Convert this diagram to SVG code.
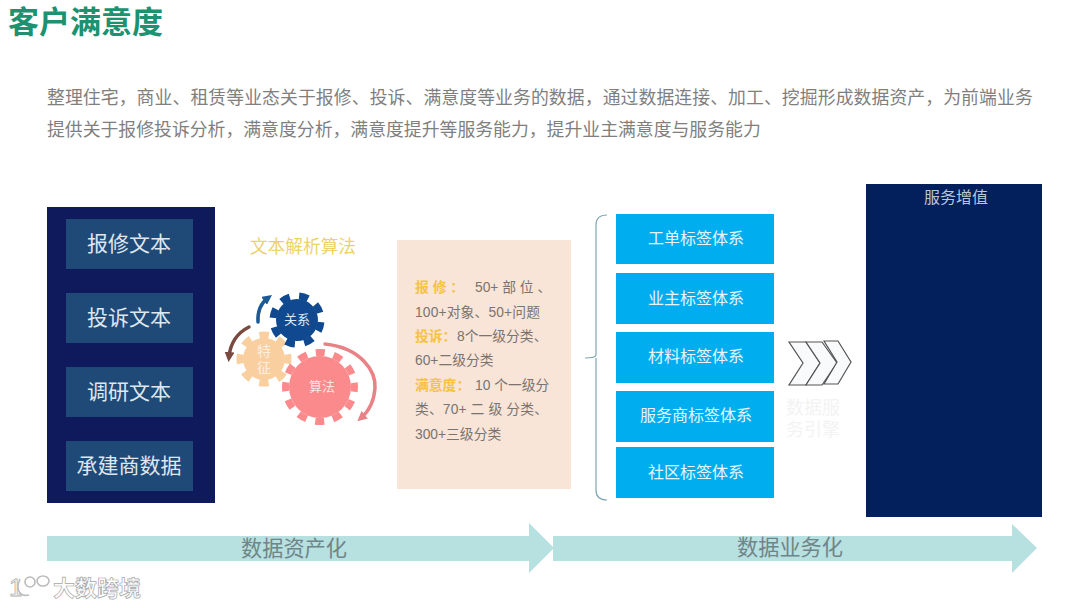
<svg xmlns="http://www.w3.org/2000/svg" width="1080" height="608" viewBox="0 0 1080 608">
<style>
text{font-family:"Liberation Sans","Noto Sans CJK SC",sans-serif}
.c{text-anchor:middle}
.side{fill:#1f4a78}
.st{fill:#dfe6ee;font-size:21px}
.blue{fill:#00aeef}
.bt{fill:#e6f5fb;font-size:16px}
.p{fill:#7f7f7f;font-size:17.85px}
.d{fill:#7a7470;font-size:13.8px}
.y{fill:#f6c244;font-weight:bold}
.ar{fill:#b7e0e1}
.at{fill:#6f8588;font-size:21.2px}
.chev{fill:#f8fafc;stroke:#555;stroke-width:1.2}
</style>
<defs>
<marker id="mb" markerWidth="2.8" markerHeight="2.8" refX="1.4" refY="1.4" orient="auto"><path d="M0,0L2.8,1.4L0,2.8z" fill="#1b5a96"/></marker>
<marker id="mr" markerWidth="2.8" markerHeight="2.8" refX="1.4" refY="1.4" orient="auto"><path d="M0,0L2.8,1.4L0,2.8z" fill="#7a4a40"/></marker>
<marker id="mp" markerWidth="2.8" markerHeight="2.8" refX="1.4" refY="1.4" orient="auto"><path d="M0,0L2.8,1.4L0,2.8z" fill="#e88286"/></marker>
</defs>
<rect width="1080" height="608" fill="#fff"/>
<text id="title" x="8" y="33" font-size="31" font-weight="bold" fill="#1c9270">客户满意度</text>
<g id="intro">
<text class="p" x="47" y="104" letter-spacing="0.08">整理住宅，商业、租赁等业态关于报修、投诉、满意度等业务的数据，通过数据连接、加工、挖掘形成数据资产，为前端业务</text>
<text class="p" x="47" y="136">提供关于报修投诉分析，满意度分析，满意度提升等服务能力，提升业主满意度与服务能力</text>
</g>
<g id="sources">
<rect x="47" y="207" width="168" height="296" fill="#0f1a5c"/>
<g id="s1"><rect class="side" x="66" y="219" width="127" height="50"/><text class="st c" x="129" y="251">报修文本</text></g>
<g id="s2"><rect class="side" x="66" y="293" width="127" height="50"/><text class="st c" x="129" y="325">投诉文本</text></g>
<g id="s3"><rect class="side" x="66" y="367" width="127" height="50"/><text class="st c" x="129" y="399">调研文本</text></g>
<g id="s4"><rect class="side" x="66" y="441" width="127" height="50"/><text class="st c" x="129" y="473">承建商数据</text></g>
</g>
<g id="algo">
<text class="c" x="303" y="253" font-size="17.7" fill="#ecd26a">文本解析算法</text>
<g id="gear-tan">
<circle cx="264" cy="359" r="21" fill="#f9cf9f"/>
<circle cx="264" cy="359" r="24" fill="none" stroke="#f9cf9f" stroke-width="7" pathLength="16" stroke-dasharray="1 1" transform="rotate(-11 264 359)"/>
<text class="c" x="264" y="356" font-size="14" fill="#fdeee0">特</text>
<text class="c" x="264" y="373" font-size="14" fill="#fdeee0">征</text>
</g>
<g id="gear-blue">
<circle cx="297" cy="320" r="21" fill="#10498f"/>
<circle cx="297" cy="320" r="24" fill="none" stroke="#10498f" stroke-width="7" pathLength="16" stroke-dasharray="1 1" transform="rotate(5 297 320)"/>
<text class="c" x="297" y="324" font-size="13" fill="#dbe8f5">关系</text>
</g>
<g id="gear-pink">
<circle cx="320" cy="387" r="31" fill="#fa8a8c"/>
<circle cx="320" cy="387" r="34.5" fill="none" stroke="#fa8a8c" stroke-width="7" pathLength="24" stroke-dasharray="1 1" transform="rotate(-7 320 387)"/>
<text class="c" x="322" y="391" font-size="13" fill="#fde3e3">算法</text>
</g>
</g>
<g id="loop-arrows" fill="none" stroke-linecap="round">
<path d="M258,322Q257,306 268,298" stroke="#1b5a96" stroke-width="3.5" marker-end="url(#mb)"/>
<path d="M249,327Q231,336 229,357" stroke="#7a4a40" stroke-width="3.5" marker-end="url(#mr)"/>
<path d="M325,344C362,348 376,372 375,388C374,402 368,412 361,418" stroke="#e88286" stroke-width="3.5" marker-end="url(#mp)"/>
</g>
<g id="details">
<rect x="397" y="240" width="174" height="249" fill="#f9e4d8"/>
<text class="d" x="415" y="292"><tspan class="y">报 修 ：</tspan><tspan x="475">50+ 部 位 、</tspan></text>
<text class="d" x="415" y="317" textLength="125">100+对象、50+问题</text>
<text class="d" x="415" y="341"><tspan class="y">投诉：</tspan><tspan x="457">8个一级分类、</tspan></text>
<text class="d" x="415" y="365">60+二级分类</text>
<text class="d" x="415" y="390"><tspan class="y">满意度：</tspan><tspan x="475">10 个一级分</tspan></text>
<text class="d" x="415" y="414" textLength="133">类、70+ 二 级 分类、</text>
<text class="d" x="415" y="439">300+三级分类</text>
</g>
<g id="connectors">
<path id="brace" d="M607,215Q596,215 596,225V355Q596,358 585,358M596,358V490Q596,500 607,500" fill="none" stroke="#7fa5b5" stroke-width="1.2"/>
</g>
<g id="tags">
<g id="t1"><rect class="blue" x="616" y="214" width="158" height="50"/><text class="bt c" x="696" y="244">工单标签体系</text></g>
<g id="t2"><rect class="blue" x="616" y="273" width="158" height="51"/><text class="bt c" x="696" y="304">业主标签体系</text></g>
<g id="t3"><rect class="blue" x="616" y="332" width="158" height="51"/><text class="bt c" x="696" y="362">材料标签体系</text></g>
<g id="t4"><rect class="blue" x="616" y="391" width="158" height="51"/><text class="bt c" x="696" y="421">服务商标签体系</text></g>
<g id="t5"><rect class="blue" x="616" y="447" width="158" height="51"/><text class="bt c" x="696" y="478">社区标签体系</text></g>
</g>
<g id="chevrons">
<path class="chev" d="M789,342H806L820,363L806,385H789L803,363z"/>
<path class="chev" d="M806,342H822L837,363L822,385H806L820,363z"/>
<path class="chev" d="M824,341H838L851,362L838,384H824L837,362z"/>
</g>
<g id="engine" font-size="18" fill="#f3f3f3">
<text class="c" x="813" y="414">数据服</text>
<text class="c" x="813" y="436">务引擎</text>
</g>
<g id="value">
<rect x="866" y="184" width="176" height="333" fill="#031f5c"/>
<text class="c" x="956" y="203" font-size="16" fill="#b9c6d8">服务增值</text>
</g>
<g id="band1"><path class="ar" d="M47,536H529V523L554,548L529,573V561H47z"/><text class="at c" x="294" y="556">数据资产化</text></g>
<g id="band2"><path class="ar" d="M553,536H1012V524L1037,548L1012,573V561H553z"/><text class="at c" x="790" y="555">数据业务化</text></g>
<g id="watermark">
<text x="53" y="596" font-size="22" font-weight="bold" fill="#fff" stroke="#a5a5a5" stroke-width="0.7">大数跨境</text>
<text x="9" y="596" font-size="24" fill="#fff" stroke="#b0b0b0" stroke-width="0.8">1</text>
<path d="M20,579C15,590 20,597 29,595M25,582a5,5 0 1,0 10,0a5,5 0 1,0 -10,0M37,581a6,5 0 1,0 12,0a6,5 0 1,0 -12,0" fill="none" stroke="#bbb" stroke-width="1.6"/>
</g>
</svg>
